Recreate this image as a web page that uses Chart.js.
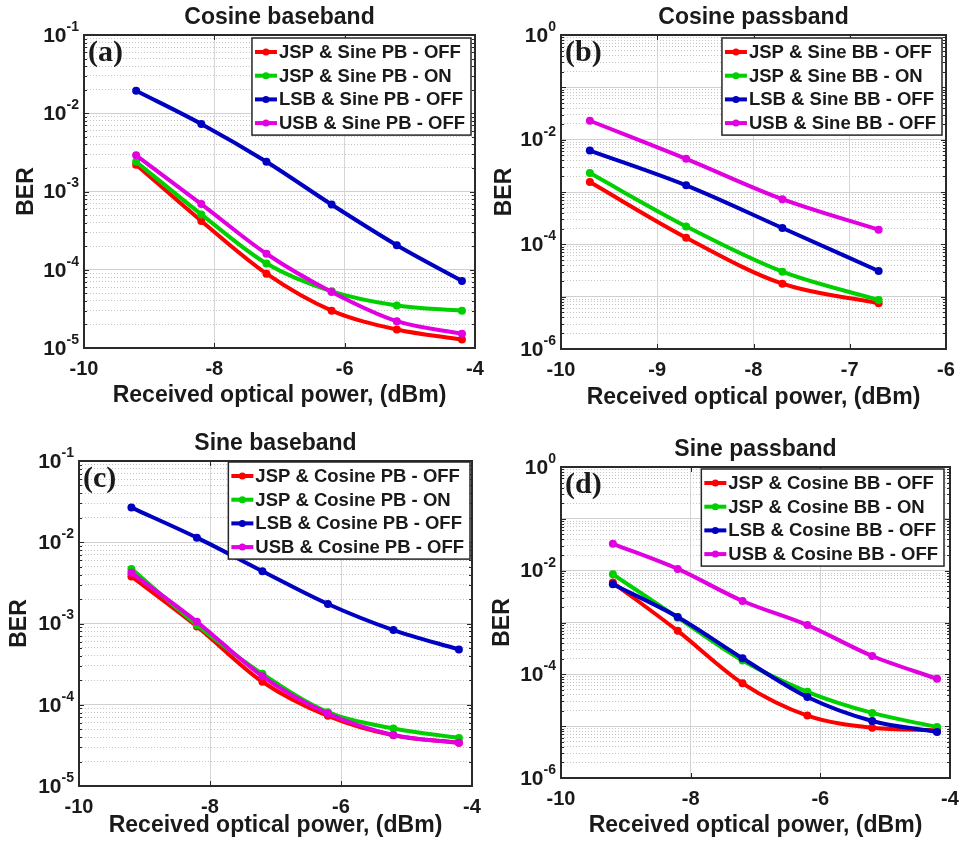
<!DOCTYPE html>
<html>
<head>
<meta charset="utf-8">
<title>BER vs received optical power</title>
<script src="https://cdn.jsdelivr.net/npm/chart.js@4.4.1/dist/chart.umd.min.js"></script>
<style>
  html, body { margin: 0; padding: 0; background: #fff; overflow: hidden; }
  body { width: 959px; height: 843px; position: relative; }
  canvas { position: absolute; }
</style>
</head>
<body>
<canvas id="chartA" width="495" height="420" style="left:0;top:0"></canvas>
<canvas id="chartB" width="490" height="420" style="left:480px;top:0"></canvas>
<canvas id="chartC" width="495" height="423" style="left:0;top:420px"></canvas>
<canvas id="chartD" width="490" height="423" style="left:480px;top:420px"></canvas>
<script>
'use strict';

// ---- data ----
// (a) Cosine baseband
const legendA = ['JSP & Sine PB - OFF', 'JSP & Sine PB - ON', 'LSB & Sine PB - OFF', 'USB & Sine PB - OFF'];
const powerA = [-9.2, -8.2, -7.2, -6.2, -5.2, -4.2];
const jspOffA = [2.2e-3, 4.2e-4, 8.9e-5, 3.0e-5, 1.72e-5, 1.28e-5];
const jspOnA = [2.4e-3, 5.1e-4, 1.2e-4, 5.3e-5, 3.5e-5, 3.0e-5];
const lsbA = [1.94e-2, 7.3e-3, 2.4e-3, 6.8e-4, 2.06e-4, 7.2e-5];
const usbA = [2.9e-3, 6.9e-4, 1.6e-4, 5.2e-5, 2.2e-5, 1.52e-5];
const xTicksA = [-10, -8, -6, -4];
const yExpA = [-5, -4, -3, -2, -1];
const yLabelExpA = [-5, -4, -3, -2, -1];

// (b) Cosine passband
const legendB = ['JSP & Sine BB - OFF', 'JSP & Sine BB - ON', 'LSB & Sine BB - OFF', 'USB & Sine BB - OFF'];
const powerB = [-9.7, -8.7, -7.7, -6.7];
const jspOffB = [1.55e-3, 1.34e-4, 1.77e-5, 7.5e-6];
const jspOnB = [2.3e-3, 2.2e-4, 3.0e-5, 8.6e-6];
const lsbB = [6.2e-3, 1.34e-3, 2.05e-4, 3.1e-5];
const usbB = [2.3e-2, 4.3e-3, 7.3e-4, 1.9e-4];
const xTicksB = [-10, -9, -8, -7, -6];
const yExpB = [-6, -5, -4, -3, -2, -1, 0];
const yLabelExpB = [-6, -4, -2, 0];

// (c) Sine baseband
const legendC = ['JSP & Cosine PB - OFF', 'JSP & Cosine PB - ON', 'LSB & Cosine PB - OFF', 'USB & Cosine PB - OFF'];
const powerC = [-9.2, -8.2, -7.2, -6.2, -5.2, -4.2];
const jspOffC = [3.8e-3, 9.2e-4, 1.92e-4, 7.3e-5, 4.2e-5, 3.4e-5];
const jspOnC = [4.7e-3, 9.6e-4, 2.4e-4, 8.1e-5, 5.1e-5, 3.9e-5];
const lsbC = [2.67e-2, 1.14e-2, 4.4e-3, 1.74e-3, 8.3e-4, 4.8e-4];
const usbC = [4.2e-3, 1.05e-3, 2.24e-4, 7.8e-5, 4.25e-5, 3.4e-5];
const xTicksC = [-10, -8, -6, -4];
const yExpC = [-5, -4, -3, -2, -1];
const yLabelExpC = [-5, -4, -3, -2, -1];

// (d) Sine passband
const legendD = ['JSP & Cosine BB - OFF', 'JSP & Cosine BB - ON', 'LSB & Cosine BB - OFF', 'USB & Cosine BB - OFF'];
const powerD = [-9.2, -8.2, -7.2, -6.2, -5.2, -4.2];
const jspOffD = [5.9e-3, 6.9e-4, 6.7e-5, 1.6e-5, 9.3e-6, 8.3e-6];
const jspOnD = [8.5e-3, 1.24e-3, 1.84e-4, 4.6e-5, 1.8e-5, 9.6e-6];
const lsbD = [5.45e-3, 1.28e-3, 2.04e-4, 3.65e-5, 1.26e-5, 7.7e-6];
const usbD = [3.3e-2, 1.08e-2, 2.6e-3, 8.9e-4, 2.26e-4, 8.2e-5];
const xTicksD = [-10, -8, -6, -4];
const yExpD = [-6, -5, -4, -3, -2, -1, 0];
const yLabelExpD = [-6, -4, -2, 0];

const seriesColors = ['#ff0000', '#00d000', '#0000c0', '#e000e0'];
const minorSteps = [2, 3, 4, 5, 6, 7, 8, 9];

const FONT = "'Liberation Sans', Arial, sans-serif";
const TEXT = '#1a1a1a';

// draws title, axes box, inward ticks, y labels (10^n), panel tag and legend
const decorPlugin = {
    id: 'decor',
    afterDraw(chart, args, opts) {
        const { ctx, chartArea: a, scales } = chart;
        ctx.save();

        // title
        ctx.fillStyle = TEXT;
        ctx.font = 'bold 23px ' + FONT;
        ctx.textAlign = 'center';
        ctx.textBaseline = 'middle';
        ctx.fillText(opts.title, (a.left + a.right) / 2, a.top - 17);

        // inward tick marks
        ctx.strokeStyle = '#262626';
        ctx.lineWidth = 1;
        ctx.beginPath();
        scales.x.ticks.forEach(t => {
            const px = Math.round(scales.x.getPixelForValue(t.value)) + 0.5;
            ctx.moveTo(px, a.bottom); ctx.lineTo(px, a.bottom - 5);
            ctx.moveTo(px, a.top); ctx.lineTo(px, a.top + 5);
        });
        scales.y.ticks.forEach(t => {
            const py = Math.round(scales.y.getPixelForValue(t.value)) + 0.5;
            const len = t.major ? 5 : 3;
            ctx.moveTo(a.left, py); ctx.lineTo(a.left + len, py);
            ctx.moveTo(a.right, py); ctx.lineTo(a.right - len, py);
        });
        ctx.stroke();

        // axes box
        ctx.strokeStyle = '#2a2a2a';
        ctx.lineWidth = 2;
        ctx.strokeRect(a.left, a.top, a.right - a.left, a.bottom - a.top);

        // y tick labels 10^n
        ctx.fillStyle = TEXT;
        opts.yLabels.forEach(e => {
            const py = scales.y.getPixelForValue(Math.pow(10, e));
            const expTxt = e === 0 ? '0' : '-' + Math.abs(e);
            ctx.font = 'bold 14px ' + FONT;
            const ew = ctx.measureText(expTxt).width;
            const xBase = a.left - 5 - ew;
            ctx.textBaseline = 'middle';
            ctx.textAlign = 'left';
            ctx.fillText(expTxt, xBase, py - 8);
            ctx.font = 'bold 21px ' + FONT;
            ctx.textAlign = 'right';
            ctx.fillText('10', xBase, py + 1);
        });

        // panel tag
        ctx.font = "bold 30px 'Liberation Serif', 'Times New Roman', serif";
        ctx.textAlign = 'left';
        ctx.textBaseline = 'middle';
        ctx.fillText(opts.tag, a.left + 4, a.top + 18);

        // legend box
        const items = chart.data.datasets;
        ctx.font = 'bold 18.5px ' + FONT;
        const maxW = Math.max(...items.map(d => ctx.measureText(d.label).width));
        const rowH = 23.7;
        const boxW = 27 + maxW + 6;
        const boxH = 14 + rowH * (items.length - 1) + 12;
        const bx = a.right - opts.legendRight - boxW;
        const by = a.top + opts.legendTop;
        ctx.fillStyle = '#fff';
        ctx.fillRect(bx, by, boxW, boxH);
        ctx.strokeStyle = '#262626';
        ctx.lineWidth = 1.5;
        ctx.strokeRect(bx, by, boxW, boxH);
        items.forEach((d, i) => {
            const cy = by + 14 + i * rowH;
            ctx.strokeStyle = d.borderColor;
            ctx.lineWidth = 4;
            ctx.beginPath();
            ctx.moveTo(bx + 3, cy); ctx.lineTo(bx + 25, cy);
            ctx.stroke();
            ctx.fillStyle = d.borderColor;
            ctx.beginPath();
            ctx.arc(bx + 14, cy, 3.5, 0, Math.PI * 2);
            ctx.fill();
            ctx.fillStyle = TEXT;
            ctx.textAlign = 'left';
            ctx.textBaseline = 'middle';
            ctx.fillText(d.label, bx + 27, cy + 1);
        });

        ctx.restore();
    }
};

function isDecade(v) {
    const l = Math.log10(v);
    return Math.abs(l - Math.round(l)) < 1e-6;
}

function makePanel(id, p) {
    const datasets = p.series.map((vals, i) => ({
        label: p.labels[i],
        data: p.power.map((x, k) => ({ x: x, y: vals[k] })),
        borderColor: seriesColors[i],
        backgroundColor: seriesColors[i],
        borderWidth: 4,
        pointRadius: 4,
        pointBorderWidth: 0,
        cubicInterpolationMode: 'monotone',
        order: p.series.length - i
    }));

    const config = {
        type: 'line',
        data: { datasets: datasets },
        options: {
            responsive: false,
            animation: false,
            layout: { padding: p.padding },
            plugins: {
                legend: { display: false },
                title: { display: false },
                tooltip: { enabled: false },
                decor: {
                    title: p.title, tag: p.tag, yLabels: p.yLabels,
                    legendRight: p.legendRight, legendTop: p.legendTop
                }
            },
            scales: {
                x: {
                    type: 'linear',
                    min: p.xTicks[0],
                    max: p.xTicks[p.xTicks.length - 1],
                    afterBuildTicks: s => { s.ticks = p.xTicks.map(v => ({ value: v })); },
                    afterFit: s => { s.height = p.xHeight; },
                    grid: { color: '#d6d6d6', lineWidth: 1, drawTicks: false },
                    border: { display: false },
                    ticks: {
                        autoSkip: false, maxRotation: 0, padding: 9,
                        color: TEXT, font: { family: FONT, size: 20, weight: 'bold' }
                    },
                    title: {
                        display: true, text: 'Received optical power, (dBm)', padding: 0,
                        color: TEXT, font: { family: FONT, size: 23, weight: 'bold' }
                    }
                },
                y: {
                    type: 'logarithmic',
                    min: Math.pow(10, p.yExp[0]),
                    max: Math.pow(10, p.yExp[p.yExp.length - 1]),
                    afterBuildTicks: s => {
                        const t = [];
                        p.yExp.forEach((e, k) => {
                            t.push({ value: Math.pow(10, e), major: true });
                            if (k < p.yExp.length - 1) {
                                minorSteps.forEach(m => t.push({ value: m * Math.pow(10, e), major: false }));
                            }
                        });
                        s.ticks = t;
                    },
                    afterFit: s => { s.width = p.yWidth; },
                    grid: {
                        drawTicks: false,
                        lineWidth: 1,
                        color: c => (c.tick && isDecade(c.tick.value)) ? '#d0d0d0' : '#c4c4c4'
                    },
                    border: {
                        display: false,
                        dash: c => (c.tick && isDecade(c.tick.value)) ? [] : [1, 2]
                    },
                    ticks: { display: false },
                    title: {
                        display: true, text: 'BER', padding: 0,
                        color: TEXT, font: { family: FONT, size: 23, weight: 'bold' }
                    }
                }
            }
        },
        plugins: [decorPlugin]
    };

    new Chart(document.getElementById(id), config);
}

function renderCharts() {
    makePanel('chartA', {
        title: 'Cosine baseband', tag: '(a)', labels: legendA, power: powerA,
        series: [jspOffA, jspOnA, lsbA, usbA], xTicks: xTicksA, yExp: yExpA, yLabels: yLabelExpA,
        padding: { left: 13, right: 20, top: 35, bottom: 11 }, yWidth: 71, xHeight: 61,
        legendRight: 4, legendTop: 3
    });
    makePanel('chartB', {
        title: 'Cosine passband', tag: '(b)', labels: legendB, power: powerB,
        series: [jspOffB, jspOnB, lsbB, usbB], xTicks: xTicksB, yExp: yExpB, yLabels: yLabelExpB,
        padding: { left: 11, right: 24, top: 35, bottom: 9 }, yWidth: 70, xHeight: 62,
        legendRight: 4, legendTop: 3
    });
    makePanel('chartC', {
        title: 'Sine baseband', tag: '(c)', labels: legendC, power: powerC,
        series: [jspOffC, jspOnC, lsbC, usbC], xTicks: xTicksC, yExp: yExpC, yLabels: yLabelExpC,
        padding: { left: 6, right: 23, top: 41, bottom: 4 }, yWidth: 73, xHeight: 53,
        legendRight: 2, legendTop: 1
    });
    makePanel('chartD', {
        title: 'Sine passband', tag: '(d)', labels: legendD, power: powerD,
        series: [jspOffD, jspOnD, lsbD, usbD], xTicks: xTicksD, yExp: yExpD, yLabels: yLabelExpD,
        padding: { left: 9, right: 20, top: 47, bottom: 4 }, yWidth: 72, xHeight: 61,
        legendRight: 6, legendTop: 2
    });
}

document.addEventListener('DOMContentLoaded', renderCharts);
</script>
</body>
</html>
